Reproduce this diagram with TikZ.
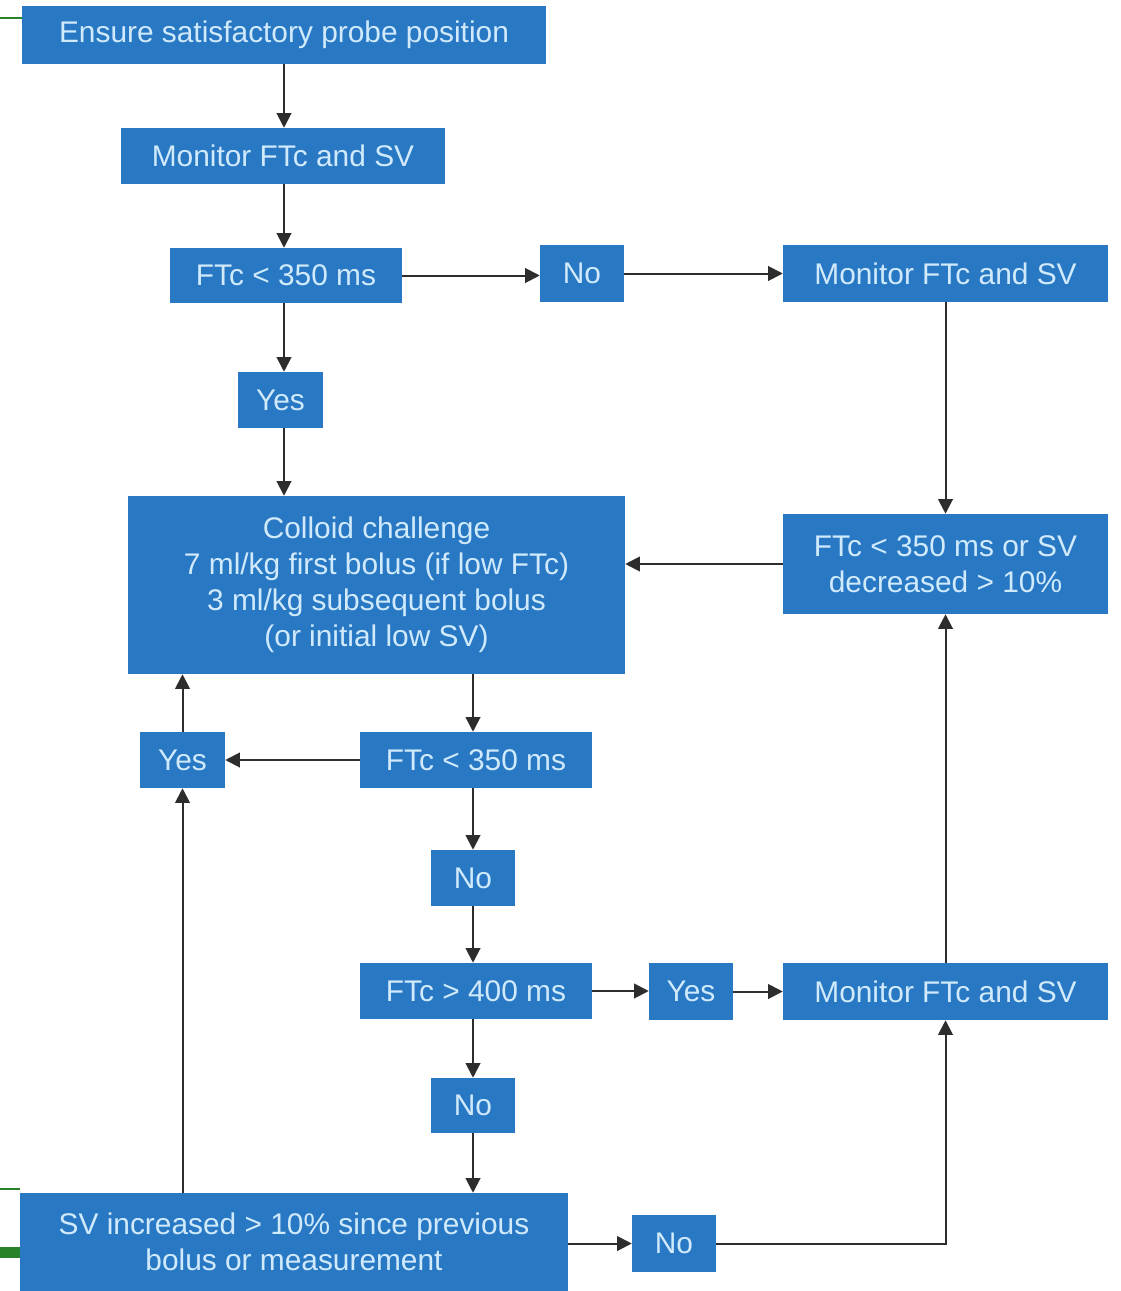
\documentclass[tikz,border=0pt]{standalone}
\usepackage{fontspec}
\setmainfont{Liberation Sans}
\usetikzlibrary{arrows.meta}
\definecolor{boxblue}{RGB}{40,120,196}
\definecolor{txt}{RGB}{208,234,252}
\definecolor{arr}{RGB}{45,45,45}
\definecolor{grn}{RGB}{40,130,40}
\begin{document}
\begin{tikzpicture}[x=0.75pt,y=-0.75pt,
  box/.style={fill=boxblue, draw=none, inner sep=0pt, text=txt,
    font=\fontsize{22.4}{27}\selectfont, align=center},
  conn/.style={draw=arr, line width=1.5pt, -{Triangle[length=11pt,width=11pt]}}]
\useasboundingbox (0,0) rectangle (1120,1291);
\fill[white] (0,0) rectangle (1120,1291);
% edge artifacts
\draw[grn, line width=1.2pt] (0,18) -- (22,18);
\draw[grn, line width=1.2pt] (0,1189) -- (20,1189);
\fill[grn] (0,1247) rectangle (20,1258);

\node[box, minimum width=393pt, minimum height=43.5pt] (n1) at (284,35) {Ensure satisfactory probe position};
\node[box, minimum width=243pt, minimum height=42pt] (n2) at (283,156) {Monitor FTc and SV};
\node[box, minimum width=174pt, minimum height=41.25pt] (n3) at (286,275.5) {FTc < 350 ms};
\node[box, minimum width=63pt, minimum height=42.75pt] (no1) at (582,273.5) {No};
\node[box, minimum width=243.75pt, minimum height=42.75pt] (m1) at (945.5,273.5) {Monitor FTc and SV};
\node[box, minimum width=63.75pt, minimum height=42pt] (y1) at (280.5,400) {Yes};
\node[box, minimum width=372.75pt, minimum height=133.5pt] (col) at (376.5,585) {Colloid challenge\\7 ml/kg first bolus (if low FTc)\\3 ml/kg subsequent bolus\\(or initial low SV)};
\node[box, minimum width=243.75pt, minimum height=75pt] (d1) at (945.5,564) {FTc < 350 ms or SV\\decreased > 10\%};
\node[box, minimum width=63.75pt, minimum height=42pt] (y2) at (182.5,760) {Yes};
\node[box, minimum width=174pt, minimum height=42pt] (f2) at (476,760) {FTc < 350 ms};
\node[box, minimum width=63pt, minimum height=42pt] (no2) at (473,878) {No};
\node[box, minimum width=174pt, minimum height=42pt] (f3) at (476,991) {FTc > 400 ms};
\node[box, minimum width=63pt, minimum height=42.75pt] (y3) at (691,991.5) {Yes};
\node[box, minimum width=243.75pt, minimum height=42.75pt] (m2) at (945.5,991.5) {Monitor FTc and SV};
\node[box, minimum width=63pt, minimum height=41.25pt] (no3) at (473,1105.5) {No};
\node[box, minimum width=411pt, minimum height=73.5pt] (sv) at (294,1242) {SV increased > 10\% since previous\\bolus or measurement};
\node[box, minimum width=63pt, minimum height=42.75pt] (no4) at (674,1243.5) {No};

\draw[conn] (n1.south) -- (n1.south |- n2.north);
\draw[conn] (n2.south -| n1.south) -- (n3.north -| n1.south);
\draw[conn] (n3.south -| n1.south) -- (y1.north -| n1.south);
\draw[conn] (y1.south -| n1.south) -- (col.north -| n1.south);
\draw[conn] (n3.east) -- (n3.east -| no1.west);
\draw[conn] (no1.east) -- (no1.east -| m1.west);
\draw[conn] (m1.south) -- (m1.south |- d1.north);
\draw[conn] (d1.west) -- (d1.west -| col.east);
\draw[conn] (col.south -| no2.north) -- (f2.north -| no2.north);
\draw[conn] (f2.west) -- (f2.west -| y2.east);
\draw[conn] (y2.north) -- (y2.north |- col.south);
\draw[conn] (f2.south -| no2.north) -- (no2.north);
\draw[conn] (no2.south) -- (no2.south |- f3.north);
\draw[conn] (f3.east) -- (f3.east -| y3.west);
\draw[conn] (y3.east) -- (y3.east -| m2.west);
\draw[conn] (m2.north) -- (m2.north |- d1.south);
\draw[conn] (f3.south -| no3.north) -- (no3.north);
\draw[conn] (no3.south) -- (no3.south |- sv.north);
\draw[conn] (sv.east |- no4.west) -- (no4.west);
\draw[conn] (no4.east) -| (m2.south);
\draw[conn] (sv.north -| y2.south) -- (y2.south);
\end{tikzpicture}
\end{document}
